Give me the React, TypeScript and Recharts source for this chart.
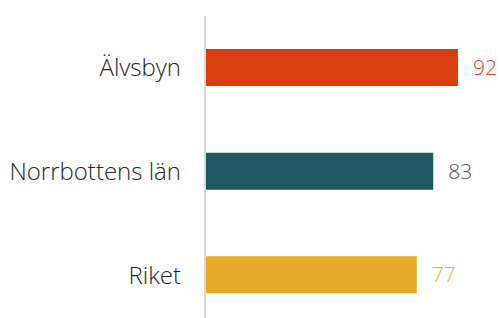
import { BarChart, Bar, XAxis, YAxis, Cell, LabelList } from "recharts";

const categories = ["Älvsbyn", "Norrbottens län", "Riket"];
const values = [92, 83, 77];
const barColors = ["#D83F0F", "#1F5860", "#E3A927"];
const labelColors = ["#D9471E", "#555555", "#E4AC34"];

const data = categories.map((name, i) => ({ name, value: values[i] }));

const FONT = "'Open Sans', Lato, sans-serif";

const ValueLabel = (props: any) => {
  const { x, y, width, height, value, index } = props;
  return (
    <text
      x={x + width + 15}
      y={y + height / 2}
      dy="0.36em"
      fill={labelColors[index]}
      fontFamily={FONT}
      fontWeight={300}
      fontSize={21}
    >
      {value}
    </text>
  );
};

export default function App() {
  return (
    <div
      style={{
        position: "absolute",
        top: 0,
        left: 0,
        width: 501,
        height: 318,
        overflow: "hidden",
        background: "#fff",
      }}
    >
      <BarChart
        layout="vertical"
        width={501}
        height={327}
        data={data}
        margin={{ top: 16, right: 21, bottom: 0, left: 0 }}
        barSize={37}
      >
        <XAxis type="number" domain={[0, 100]} hide />
        <YAxis
          type="category"
          dataKey="name"
          width={205}
          tickLine={false}
          tickSize={0}
          tickMargin={24}
          axisLine={{ stroke: "#d9d9d9", strokeWidth: 2 }}
          tick={{
            fill: "#262626",
            fontSize: 24,
            fontFamily: FONT,
            fontWeight: 300,
          }}
        />
        <Bar dataKey="value" isAnimationActive={false}>
          {data.map((d, i) => (
            <Cell key={d.name} fill={barColors[i]} />
          ))}
          <LabelList dataKey="value" content={<ValueLabel />} />
        </Bar>
      </BarChart>
    </div>
  );
}
